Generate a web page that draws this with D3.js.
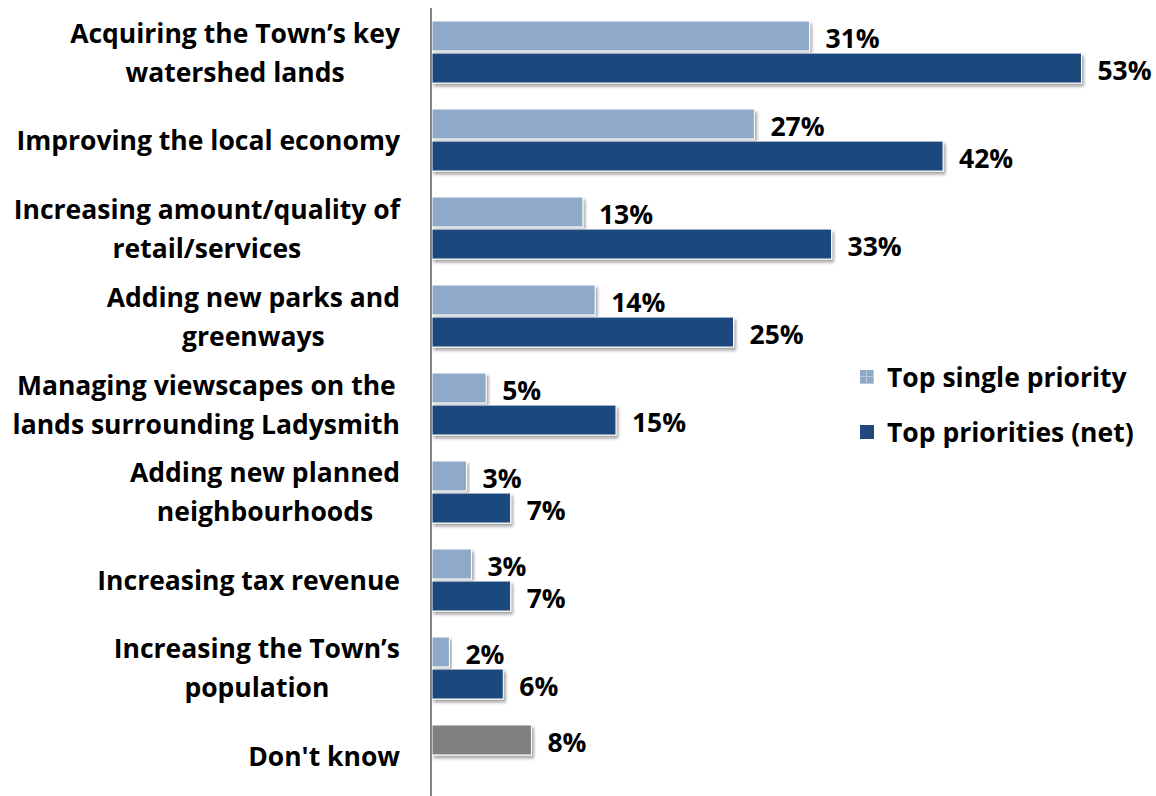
<!DOCTYPE html>
<html>
<head>
<meta charset="utf-8">
<script src="https://cdn.jsdelivr.net/npm/d3@7"></script>
<style>
  html, body { margin: 0; padding: 0; background: #fff; }
  svg text { font-family: "Open Sans", Lato, sans-serif; font-weight: bold; fill: #000; }
</style>
</head>
<body>
<svg id="chart" width="1156" height="796"></svg>
<script>
// ---- Data ----
const categories = [
  "Acquiring the Town’s key\nwatershed lands",
  "Improving the local economy",
  "Increasing amount/quality of\nretail/services",
  "Adding new parks and\ngreenways",
  "Managing viewscapes on the\nlands surrounding Ladysmith",
  "Adding new planned\nneighbourhoods",
  "Increasing tax revenue",
  "Increasing the Town’s\npopulation",
  "Don't know"
];
const seriesNames = ["Top single priority", "Top priorities (net)"];
const singleValues = [30.9, 26.4, 12.4, 13.4, 4.5, 2.9, 3.3, 1.5, 8.2];
const netValues    = [53.1, 41.8, 32.7, 24.7, 15.1, 6.5, 6.5, 5.9, null];
const singleLabels = ["31%", "27%", "13%", "14%", "5%", "3%", "3%", "2%", "8%"];
const netLabels    = ["53%", "42%", "33%", "25%", "15%", "7%", "7%", "6%", ""];

// ---- Layout ----
const axisX = 431;
const fontSize = 26.5;
const colors = { single: "#8FAAC8", net: "#1F497D", dk: "#808080" };

const svg = d3.select("#chart");
const defs = svg.append("defs");
const f = defs.append("filter").attr("id", "shadow")
  .attr("x", "-5%").attr("y", "-20%").attr("width", "115%").attr("height", "160%");
f.append("feDropShadow").attr("dx", 2).attr("dy", 3).attr("stdDeviation", 1.8)
  .attr("flood-color", "#000").attr("flood-opacity", 0.35);

const pat = defs.append("pattern").attr("id", "legPat")
  .attr("patternUnits", "userSpaceOnUse").attr("width", 7).attr("height", 7);
pat.append("rect").attr("width", 7).attr("height", 7).attr("fill", colors.single);
pat.append("rect").attr("x", 6).attr("width", 1).attr("height", 7).attr("fill", "#B7C8DD");
pat.append("rect").attr("y", 6).attr("width", 7).attr("height", 1).attr("fill", "#B7C8DD");

const x = d3.scaleLinear().domain([0, 60]).range([axisX, axisX + 735]);
const y = d3.scaleBand().domain(d3.range(categories.length))
  .range([8, 800]).paddingInner(0.295).paddingOuter(0.1477);
const ySub = d3.scaleBand().domain([0, 1]).range([0, y.bandwidth()]).paddingInner(0.065);

const rows = categories.map((c, i) => ({
  i, cat: c,
  bars: [
    { s: 0, v: singleValues[i], label: singleLabels[i], color: i === categories.length - 1 ? colors.dk : colors.single },
    { s: 1, v: netValues[i], label: netLabels[i], color: colors.net }
  ].filter(b => b.v != null)
}));

const g = svg.append("g");
const grp = g.selectAll("g.row").data(rows).join("g")
  .attr("class", "row")
  .attr("transform", d => `translate(0,${y(d.i)})`);

grp.selectAll("rect").data(d => d.bars).join("rect")
  .attr("x", x(0) + 1)
  .attr("y", b => ySub(b.s))
  .attr("width", b => x(b.v) - x(0) - 1)
  .attr("height", ySub.bandwidth())
  .attr("fill", b => b.color)
  .attr("stroke", "#ffffff")
  .attr("stroke-width", 1)
  .attr("filter", "url(#shadow)");

grp.selectAll("text.val").data(d => d.bars).join("text")
  .attr("class", "val")
  .attr("x", b => x(b.v) + 16)
  .attr("y", b => ySub(b.s) + ySub.bandwidth() / 2 + 2)
  .attr("dominant-baseline", "central")
  .style("font-size", fontSize + "px")
  .text(b => b.label);

// Category labels: block right-aligned at x=400, lines centered within block
const labelRight = 400;
const lineGap = 39;
rows.forEach(r => {
  const lines = r.cat.split("\n");
  const cy = y(r.i) + y.bandwidth() / 2;
  const tg = g.append("g");
  const ts = lines.map((ln, k) => tg.append("text")
    .attr("y", cy + (k - (lines.length - 1) / 2) * lineGap)
    .attr("dominant-baseline", "central")
    .attr("text-anchor", "middle")
    .style("font-size", fontSize + "px")
    .text(ln));
  const maxW = d3.max(ts, t => t.node().getComputedTextLength());
  ts.forEach(t => t.attr("x", labelRight - maxW / 2));
});

// Axis line
g.append("line")
  .attr("x1", axisX).attr("x2", axisX)
  .attr("y1", y.range()[0]).attr("y2", y.range()[1])
  .attr("stroke", "#868686").attr("stroke-width", 2);

// Legend
const legend = svg.append("g").attr("transform", "translate(860,377)");
const legItems = [
  { name: seriesNames[0], color: "url(#legPat)" },
  { name: seriesNames[1], color: colors.net }
];
const li = legend.selectAll("g").data(legItems).join("g")
  .attr("transform", (d, k) => `translate(0,${k * 55})`);
li.append("rect").attr("x", 0).attr("y", -7).attr("width", 14).attr("height", 14)
  .attr("fill", d => d.color);
li.append("text").attr("x", 27).attr("y", 0)
  .attr("dominant-baseline", "central")
  .style("font-size", fontSize + "px")
  .text(d => d.name);
</script>
</body>
</html>
